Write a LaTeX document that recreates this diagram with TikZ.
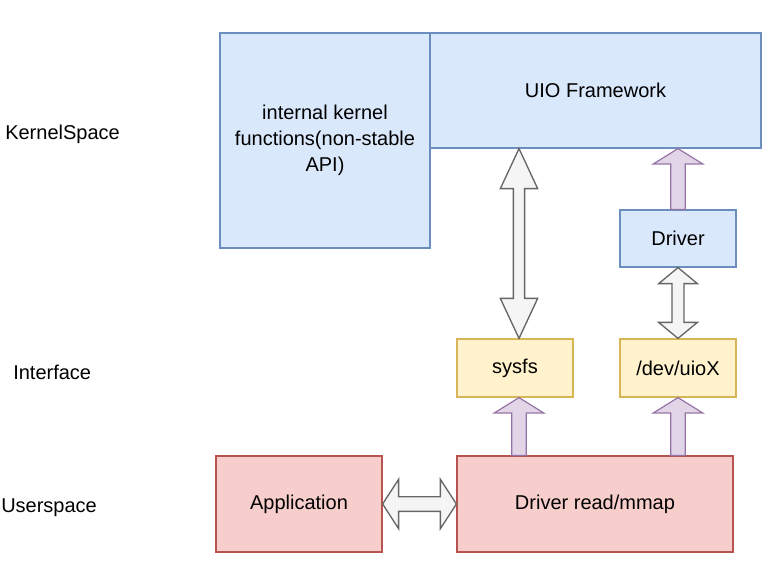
\documentclass[tikz,border=0pt]{standalone}
\usepackage{fontspec}
\setmainfont{Liberation Sans}
\usetikzlibrary{calc, positioning}
\definecolor{kfill}{HTML}{dae8fc}
\definecolor{kdraw}{HTML}{6c8ebf}
\definecolor{ifill}{HTML}{fff2cc}
\definecolor{idraw}{HTML}{d6b656}
\definecolor{ufill}{HTML}{f8cecc}
\definecolor{udraw}{HTML}{b85450}
\definecolor{pfill}{HTML}{e1d5e7}
\definecolor{pdraw}{HTML}{9673a6}
\definecolor{gfill}{HTML}{f5f5f5}
\definecolor{gdraw}{HTML}{666666}

% fat arrows: #1 style, #2 from, #3 to, #4 head length, #5 head half width, #6 shaft half width
\newcommand{\fatsingle}[6]{%
  \path (#2) coordinate (fa) (#3) coordinate (fb);
  \coordinate (fm) at ($(fb)!#4!(fa)$);
  \draw[#1] ($(fa)!#6!90:(fb)$) -- ($(fm)!#6!90:(fb)$) -- ($(fm)!#5!90:(fb)$)
    -- (fb) -- ($(fm)!#5!-90:(fb)$) -- ($(fm)!#6!-90:(fb)$) -- ($(fa)!#6!-90:(fb)$) -- cycle;}
\newcommand{\fatdouble}[6]{%
  \path (#2) coordinate (fa) (#3) coordinate (fb);
  \coordinate (fma) at ($(fa)!#4!(fb)$);
  \coordinate (fmb) at ($(fb)!#4!(fa)$);
  \draw[#1] (fa) -- ($(fma)!#5!90:(fb)$) -- ($(fma)!#6!90:(fb)$) -- ($(fmb)!#6!90:(fb)$)
    -- ($(fmb)!#5!90:(fb)$) -- (fb) -- ($(fmb)!#5!-90:(fb)$) -- ($(fmb)!#6!-90:(fb)$)
    -- ($(fma)!#6!-90:(fb)$) -- ($(fma)!#5!-90:(fb)$) -- cycle;}

\begin{document}
\begin{tikzpicture}[
  x=0.75pt, y=-0.75pt,
  every node/.style={font=\fontsize{15}{19.5}\selectfont},
  box/.style={rectangle, line width=0.9pt, align=center, inner sep=0pt},
  kbox/.style={box, draw=kdraw, fill=kfill},
  ibox/.style={box, draw=idraw, fill=ifill},
  ubox/.style={box, draw=udraw, fill=ufill},
  lbl/.style={anchor=west, inner sep=0pt},
  parr/.style={draw=pdraw, fill=pfill, line width=0.9pt, line join=miter},
  garr/.style={draw=gdraw, fill=gfill, line width=1pt, line join=miter}
]
\useasboundingbox (0,0) rectangle (770,568);

% layer labels
\node[lbl] (lkernel) at (5,134) {KernelSpace};
\node[lbl] (liface)  at (13,372) {Interface};
\node[lbl] (luser)   at (1,508) {Userspace};

% kernel space
\node[kbox, minimum width=210*0.75pt, minimum height=215*0.75pt] (kfunc) at (325,140.5)
  {internal kernel\\functions(non-stable\\API)};
\node[kbox, minimum width=331*0.75pt, minimum height=115*0.75pt] (uio) at (595.5,90.5)
  {UIO Framework};
\node[kbox, minimum width=116*0.75pt, minimum height=57*0.75pt] (drv) at (678,238.5) {Driver};

% interface
\node[ibox, minimum width=116*0.75pt, minimum height=58*0.75pt] (sysfs) at (515,368) {sysfs};
\node[ibox, minimum width=116*0.75pt, minimum height=58*0.75pt] (uiox) at (678,368) {/dev/uioX};

% userspace
\node[ubox, minimum width=166*0.75pt, minimum height=96*0.75pt] (app) at (299,504) {Application};
\node[ubox, minimum width=276*0.75pt, minimum height=96*0.75pt] (rdmmap) at (595,504) {Driver read/mmap};

% connectors
\fatdouble{garr}{$(sysfs.north)+(4,0)$}{$(sysfs.north |- uio.south)+(4,0)$}{30pt}{14pt}{4.2pt}
\fatdouble{garr}{uiox.north}{drv.south}{12pt}{14.5pt}{4.5pt}
\fatdouble{garr}{app.east}{rdmmap.west}{12pt}{18.5pt}{5.5pt}
\fatsingle{parr}{drv.north}{drv.north |- uio.south}{11.5pt}{18.5pt}{5.5pt}
\fatsingle{parr}{$(sysfs.south |- rdmmap.north)+(4,0)$}{$(sysfs.south)+(4,0)$}{11.5pt}{18.5pt}{5.5pt}
\fatsingle{parr}{uiox.south |- rdmmap.north}{uiox.south}{11.5pt}{18.5pt}{5.5pt}
\end{tikzpicture}
\end{document}
